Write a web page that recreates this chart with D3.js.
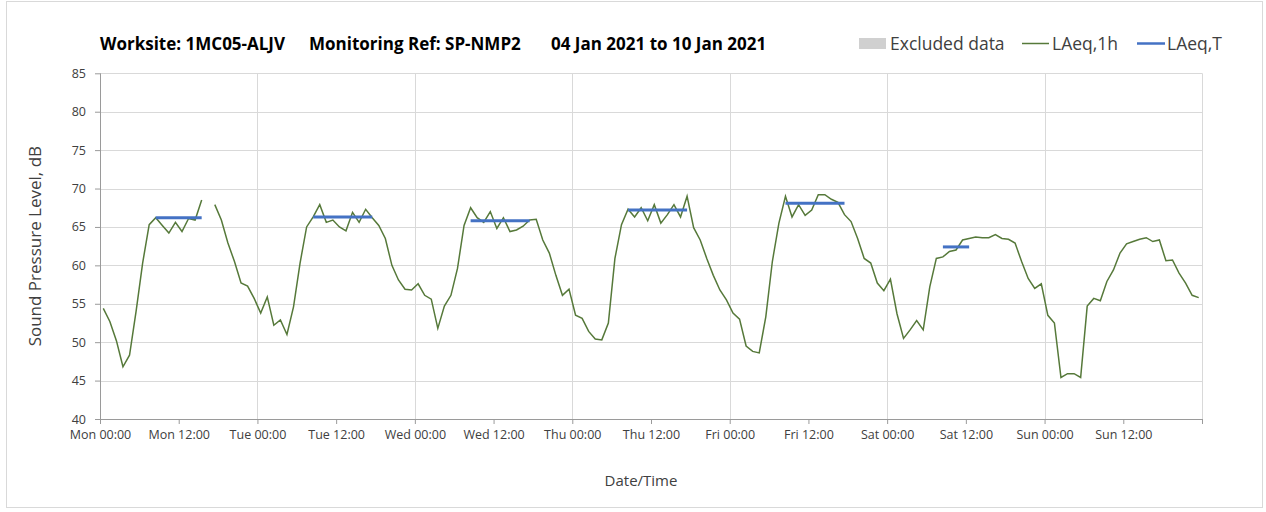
<!DOCTYPE html>
<meta charset="utf-8">
<style>
body { margin: 0; background: #fff; }
text { font-family: "Open Sans", sans-serif; }
.grid line { stroke: #d9d9d9; stroke-width: 1; }
.axis path, .axis line { stroke: #9a9a9a; }
.axis text { fill: #404040; font-size: 12.5px; }
.lineh { stroke: #56793a; fill: none; stroke-width: 1.5; }
.linet { stroke: #4472c4; fill: none; stroke-width: 3; }
</style>
<body>
<script src="https://d3js.org/d3.v7.min.js"></script>
<script>

// hourly LAeq,1h values, plotted at mid-hour (null = excluded)
var mon = [54.4,52.7,50.2,46.8,48.3,54.0,60.3,65.3,66.2,65.2,64.2,65.6,64.4,66.1,65.9,68.5,null,67.9,65.9,62.9,60.5,57.7,57.3,55.7];
var tue = [53.8,55.9,52.2,52.9,51.0,54.6,60.3,65.0,66.3,67.9,65.6,65.9,65.0,64.5,66.9,65.6,67.3,66.2,65.2,63.5,60.0,58.1,56.9,56.8];
var wed = [57.6,56.1,55.6,51.8,54.7,56.1,59.6,65.2,67.5,66.2,65.6,67.0,64.8,66.2,64.4,64.6,65.1,65.9,66.0,63.3,61.6,58.7,56.1,56.9];
var thu = [53.5,53.1,51.4,50.4,50.3,52.5,60.9,65.3,67.3,66.3,67.5,65.8,67.9,65.5,66.6,67.9,66.3,69.0,64.9,63.3,60.9,58.7,56.8,55.5];
var fri = [53.8,53.0,49.5,48.8,48.6,53.3,60.5,65.5,69.0,66.3,67.9,66.5,67.2,69.2,69.2,68.6,68.2,66.6,65.7,63.5,60.9,60.3,57.7,56.7];
var sat = [58.2,53.7,50.5,51.6,52.8,51.6,57.2,60.9,61.1,61.8,62.0,63.3,63.5,63.7,63.6,63.6,64.0,63.5,63.4,62.9,60.5,58.3,57.0,57.6];
var sun = [53.5,52.5,45.4,45.9,45.9,45.4,54.7,55.7,55.4,57.9,59.4,61.6,62.8,63.1,63.4,63.6,63.1,63.3,60.6,60.7,59.0,57.7,56.1,55.8];

// LAeq,T periods (day index, from hour, to hour, level)
var periodDay   = [0, 1, 2, 3, 4, 5];
var periodFrom  = [8.5, 8.5, 8.5, 8.5, 8.5, 8.5];
var periodTo    = [15.5, 17.5, 17.5, 17.5, 17.5, 12.5];
var periodLevel = [66.2, 66.3, 65.8, 67.2, 68.1, 62.4];

var tickLabels = ["Mon 00:00","Mon 12:00","Tue 00:00","Tue 12:00","Wed 00:00","Wed 12:00",
                  "Thu 00:00","Thu 12:00","Fri 00:00","Fri 12:00","Sat 00:00","Sat 12:00",
                  "Sun 00:00","Sun 12:00"];
var yTicks = [40,45,50,55,60,65,70,75,80,85];

var W = 1266, H = 512;
var pLeft = 100, pRight = 1202, pTop = 73.3, pBottom = 419;

var svg = d3.select("body").append("svg")
    .attr("width", W)
    .attr("height", H);

// chart border
svg.append("rect")
    .attr("x", 6.5).attr("y", 1.5)
    .attr("width", 1256).attr("height", 506)
    .attr("fill", "none").attr("stroke", "#d9d9d9");

var x = d3.scaleLinear().domain([0, 168]).range([pLeft, pRight]);
var y = d3.scaleLinear().domain([40, 85]).range([pBottom, pTop]);

// gridlines
var grid = svg.append("g").attr("class", "grid");
grid.selectAll(".h").data(yTicks.slice(1)).enter().append("line")
    .attr("x1", pLeft).attr("x2", pRight)
    .attr("y1", function(d) { return Math.round(y(d)) + 0.5; })
    .attr("y2", function(d) { return Math.round(y(d)) + 0.5; });
grid.selectAll(".v").data(d3.range(24, 169, 24)).enter().append("line")
    .attr("y1", pTop).attr("y2", pBottom)
    .attr("x1", function(d) { return Math.round(x(d)) + 0.5; })
    .attr("x2", function(d) { return Math.round(x(d)) + 0.5; });

// axes
svg.append("g")
    .attr("class", "axis")
    .attr("transform", "translate(0," + Math.round(pBottom) + ")")
    .call(d3.axisBottom(x)
        .tickValues(d3.range(0, 169, 12))
        .tickSize(5).tickPadding(6)
        .tickFormat(function(d, i) { return tickLabels[i] || ""; }))
    .call(function(g) { g.select(".domain").attr("d", "M" + pLeft + ",0.5H" + pRight); });

svg.append("g")
    .attr("class", "axis")
    .attr("transform", "translate(" + pLeft + ",0)")
    .call(d3.axisLeft(y).tickValues(yTicks).tickSize(5).tickPadding(9))
    .call(function(g) { g.select(".domain").attr("d", "M0.5," + pTop + "V" + pBottom); });

// LAeq,1h line
var hourly = [].concat(mon, tue, wed, thu, fri, sat, sun).map(function(v, i) {
    return { t: i + 0.5, v: v };
});
var line = d3.line()
    .defined(function(d) { return d.v !== null; })
    .x(function(d) { return x(d.t); })
    .y(function(d) { return y(d.v); });
svg.append("path")
    .datum(hourly)
    .attr("class", "lineh")
    .attr("d", line);

// LAeq,T segments
periodDay.forEach(function(day, i) {
    svg.append("line")
        .attr("class", "linet")
        .attr("x1", x(day * 24 + periodFrom[i]))
        .attr("x2", x(day * 24 + periodTo[i]))
        .attr("y1", y(periodLevel[i]))
        .attr("y2", y(periodLevel[i]));
});

// title
var title = svg.append("g").attr("font-weight", "bold").attr("font-size", "17px").attr("fill", "#000");
title.append("text").attr("x", 100).attr("y", 50).text("Worksite: 1MC05-ALJV");
title.append("text").attr("x", 309).attr("y", 50).text("Monitoring Ref: SP-NMP2");
title.append("text").attr("x", 551).attr("y", 50).text("04 Jan 2021 to 10 Jan 2021");

// legend
var lg = svg.append("g").attr("font-size", "17.5px").attr("fill", "#404040");
lg.append("rect").attr("x", 859).attr("y", 38).attr("width", 27).attr("height", 11).attr("fill", "#d0d0d0");
lg.append("text").attr("x", 890).attr("y", 50).text("Excluded data");
lg.append("line").attr("x1", 1022).attr("x2", 1049).attr("y1", 43.5).attr("y2", 43.5)
    .attr("stroke", "#56793a").attr("stroke-width", 1.5);
lg.append("text").attr("x", 1052).attr("y", 50).text("LAeq,1h");
lg.append("line").attr("x1", 1137).attr("x2", 1165).attr("y1", 43.5).attr("y2", 43.5)
    .attr("stroke", "#4472c4").attr("stroke-width", 2.5);
lg.append("text").attr("x", 1167).attr("y", 50).text("LAeq,T");

// axis titles
svg.append("text")
    .attr("transform", "translate(41," + (pTop + pBottom) / 2 + ") rotate(-90)")
    .attr("text-anchor", "middle")
    .attr("font-size", "17px").attr("fill", "#404040")
    .text("Sound Pressure Level, dB");
svg.append("text")
    .attr("x", 641).attr("y", 486)
    .attr("text-anchor", "middle")
    .attr("font-size", "15px").attr("fill", "#404040")
    .text("Date/Time");

</script>
</body>
